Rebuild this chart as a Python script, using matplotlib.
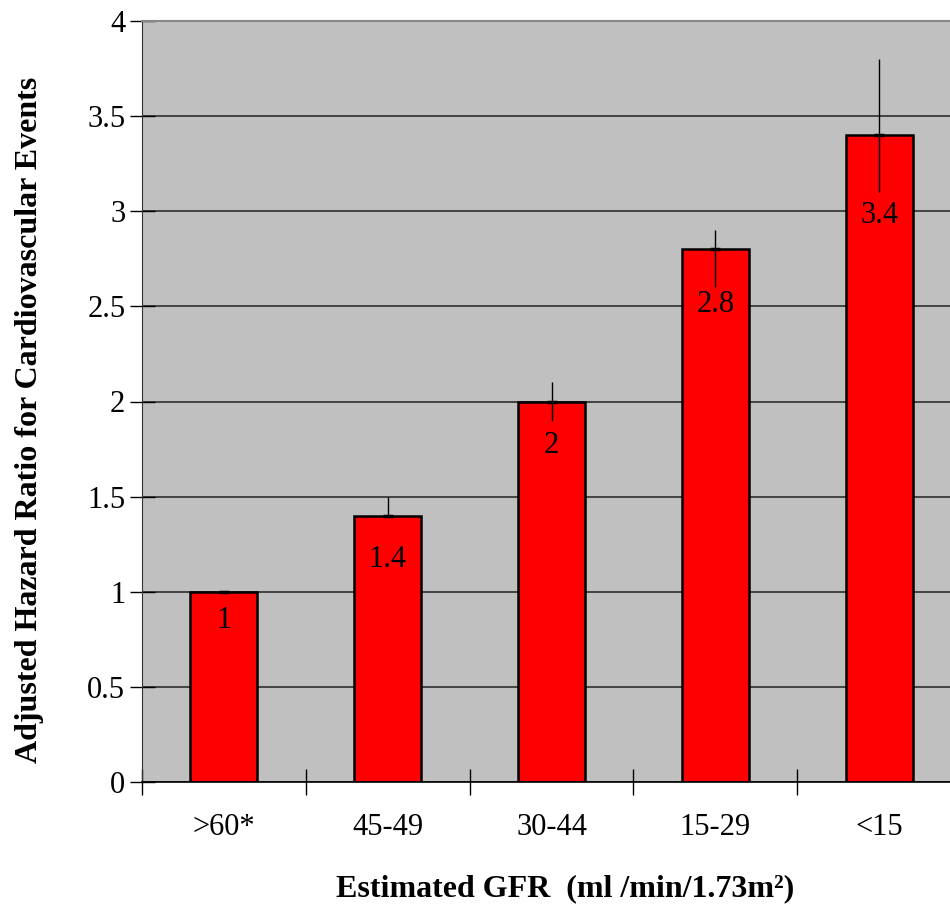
import numpy as np
import matplotlib.pyplot as plt

# data
categories = [">60*", "45-49", "30-44", "15-29", "<15"]
hazard = [1.0, 1.4, 2.0, 2.8, 3.4]
ci_low = [1.0, 1.4, 1.9, 2.6, 3.1]
ci_high = [1.0, 1.5, 2.1, 2.9, 3.8]
labels = ["1", "1.4", "2", "2.8", "3.4"]

# how far below the bar top each value label sits (layout, in axis units)
label_drop = [0.15, 0.23, 0.23, 0.29, 0.42]

plt.rcParams["font.family"] = ["Liberation Serif", "DejaVu Serif"]

fig = plt.figure(figsize=(9.5, 9.08), dpi=100)
ax = fig.add_axes([142 / 950, 1 - 782 / 908, 819 / 950, 761 / 908])
ax.set_facecolor("#c0c0c0")

x = np.arange(len(categories))
hazard = np.array(hazard)
yerr = [hazard - np.array(ci_low), np.array(ci_high) - hazard]

ax.set_axisbelow(True)
ax.yaxis.grid(True, color="#222222", linewidth=1.1)

ax.bar(x, hazard, width=0.41, color="#ff0000", edgecolor="black", linewidth=1.8, zorder=2)
ax.errorbar(x, hazard, yerr=yerr, fmt="_", color="black", ecolor="black",
            elinewidth=1.0, markersize=7, markeredgewidth=2.5, capsize=0, zorder=3)

for xi, h, d, lab in zip(x, hazard, label_drop, labels):
    ax.text(xi, h - d, lab, ha="center", va="center", fontsize=22, zorder=4)

ax.set_xlim(-0.5, len(categories) - 0.5)
ax.set_ylim(0, 4)
ax.set_yticks(np.arange(0, 4.01, 0.5))
ax.set_yticklabels(["0", "0.5", "1", "1.5", "2", "2.5", "3", "3.5", "4"])
ax.tick_params(axis="y", direction="inout", length=18, width=1, labelsize=22, pad=3)

# category labels centred, tick marks between categories
ax.set_xticks(np.arange(-0.5, len(categories), 1.0))
ax.set_xticklabels([])
ax.set_xticks(x, minor=True)
ax.set_xticklabels(categories, minor=True, fontsize=22)
ax.tick_params(axis="x", which="major", direction="inout", length=19, width=1)
ax.tick_params(axis="x", which="minor", length=0, pad=22)

ax.spines["right"].set_visible(False)
ax.spines["top"].set_color("#888888")
ax.spines["top"].set_linewidth(1.5)
ax.spines["left"].set_color("#333333")
ax.spines["bottom"].set_color("black")
ax.spines["bottom"].set_linewidth(1.2)

fig.text(30 / 950, 1 - 420 / 908, "Adjusted Hazard Ratio for Cardiovascular Events",
         rotation=90, ha="center", va="center", fontsize=23, fontweight="bold")
fig.text(565 / 950, 1 - 889 / 908, "Estimated GFR  (ml /min/1.73m\u00b2)",
         ha="center", va="center", fontsize=23, fontweight="bold")

fig.savefig("out.png", dpi=100)
